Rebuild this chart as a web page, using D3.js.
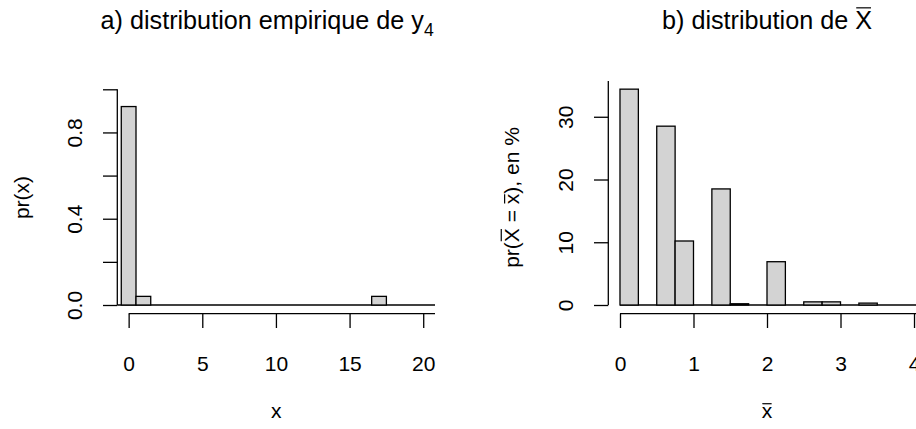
<!DOCTYPE html>
<html>
<head>
<meta charset="utf-8">
<script src="https://cdn.jsdelivr.net/npm/d3@7"></script>
<style>
  body { margin: 0; background: #fff; }
  svg { display: block; }
  text { font-family: "Liberation Sans", Arial, Helvetica, sans-serif; fill: #000; white-space: pre; }
</style>
</head>
<body>
<svg id="chart" width="916" height="429"></svg>
<script>
// a) empirical distribution of y4: observed values and their relative frequencies
const yValues = [0, 1, 17];
const yProb = [0.92, 0.04, 0.04];
const leftXTicks = [0, 5, 10, 15, 20];
const leftYTicks = [0, 0.2, 0.4, 0.6, 0.8, 1.0];
const leftYLabelled = [0, 0.4, 0.8];

// b) distribution of the sample mean: class start (width 0.25) and percentage
const meanBinStart = [0, 0.5, 0.75, 1.25, 1.5, 2, 2.5, 2.75, 3.25];
const meanPct = [34.4, 28.5, 10.2, 18.5, 0.2, 6.9, 0.5, 0.5, 0.3];
const meanBinWidth = 0.25;
const rightXTicks = [0, 1, 2, 3, 4];
const rightYTicks = [0, 10, 20, 30];

const svg = d3.select("#chart");
const AX = 21;        // axis text size
const MAIN = 25.2;    // title size
const TICK = 14.3;    // tick length
const SW = 1.3;       // line width
const FILL = "#d3d3d3";
const BASE_Y = 305;   // plot bottom (value 0)
const XAXIS_Y = 313.7;

// Text made of pieces; pieces flagged with `bar` get an overline, `sub` are subscripts.
function richText(g, parts, size) {
  const t = g.append("text")
    .attr("text-anchor", "middle")
    .attr("font-size", size)
    .attr("xml:space", "preserve");
  parts.forEach(p => {
    const ts = t.append("tspan").text(p.t);
    if (p.sub) ts.attr("font-size", size * 0.7).attr("dy", size * 0.27);
  });
  let idx = 0;
  parts.forEach(p => {
    if (p.bar) {
      const e = t.node().getExtentOfChar(idx);
      const yb = -size * p.bar;
      g.append("line")
        .attr("x1", e.x + e.width * 0.06).attr("x2", e.x + e.width * 0.94)
        .attr("y1", yb).attr("y2", yb)
        .attr("stroke", "#000").attr("stroke-width", 1.2);
    }
    idx += p.t.length;
  });
  return t;
}

function styleAxis(sel) {
  sel.select(".domain").remove();
  sel.selectAll(".tick line").attr("stroke", "#000").attr("stroke-width", SW);
  sel.selectAll(".tick text").attr("font-size", AX).attr("font-family", null).attr("fill", "#000");
  sel.attr("font-family", null).attr("font-size", null);
}

function line(x1, y1, x2, y2) {
  svg.append("line").attr("x1", x1).attr("y1", y1).attr("x2", x2).attr("y2", y2)
    .attr("stroke", "#000").attr("stroke-width", SW);
}

// ---------- panel a ----------
{
  const x = d3.scaleLinear().domain([-0.77, 20.8]).range([117.3, 435]);
  const y = d3.scaleLinear().domain([0, 1]).range([BASE_Y, 89.3]);
  const [xl, xr] = x.range();

  // zero line under the bars
  line(xl, y(0), xr, y(0));

  svg.append("g").selectAll("rect").data(yValues).join("rect")
    .attr("x", (d) => x(d - 0.5))
    .attr("width", (d) => x(d + 0.5) - x(d - 0.5))
    .attr("y", (d, i) => y(yProb[i]))
    .attr("height", (d, i) => y(0) - y(yProb[i]))
    .attr("fill", FILL).attr("stroke", "#000").attr("stroke-width", SW);

  // y axis
  line(xl, y(1), xl, y(0));
  const ya = svg.append("g").attr("transform", `translate(${xl},0)`)
    .call(d3.axisLeft(y).tickValues(leftYTicks).tickSize(TICK).tickSizeOuter(0)
      .tickFormat(d => leftYLabelled.some(v => Math.abs(v - d) < 1e-9) ? d3.format(".1f")(d) : ""));
  styleAxis(ya);
  ya.selectAll(".tick text").attr("x", null).attr("dy", null).attr("text-anchor", "middle")
    .attr("transform", "translate(-35.6,0) rotate(-90)");

  // x axis
  line(x(0), XAXIS_Y, xr, XAXIS_Y);
  const xa = svg.append("g").attr("transform", `translate(0,${XAXIS_Y})`)
    .call(d3.axisBottom(x).tickValues(leftXTicks).tickSize(TICK).tickSizeOuter(0));
  styleAxis(xa);
  xa.selectAll(".tick text").attr("dy", null).attr("y", 57);

  const cx = (xl + xr) / 2;
  richText(svg.append("g").attr("transform", `translate(${cx - 9},29)`),
    [{ t: "a) distribution empirique de y" }, { t: "4", sub: true }], MAIN);
  richText(svg.append("g").attr("transform", `translate(${cx},418)`), [{ t: "x" }], AX);
  richText(svg.append("g").attr("transform", `translate(28.6,197.5) rotate(-90)`), [{ t: "pr(x)" }], AX);
}

// ---------- panel b ----------
{
  const x = d3.scaleLinear().domain([-0.159, 4.159]).range([608.3, 925.7]);
  const y = d3.scaleLinear().domain([0, 35.7]).range([BASE_Y, 81]);
  const [xl, xr] = x.range();

  // zero line under the classes
  line(x(0), y(0), xr, y(0));

  svg.append("g").selectAll("rect").data(meanBinStart).join("rect")
    .attr("x", (d) => x(d))
    .attr("width", (d) => x(d + meanBinWidth) - x(d))
    .attr("y", (d, i) => y(meanPct[i]))
    .attr("height", (d, i) => y(0) - y(meanPct[i]))
    .attr("fill", FILL).attr("stroke", "#000").attr("stroke-width", SW);

  // y axis
  line(xl, y(35.7), xl, y(0));
  const ya = svg.append("g").attr("transform", `translate(${xl},0)`)
    .call(d3.axisLeft(y).tickValues(rightYTicks).tickSize(TICK).tickSizeOuter(0).tickFormat(d3.format("d")));
  styleAxis(ya);
  ya.selectAll(".tick text").attr("x", null).attr("dy", null).attr("text-anchor", "middle")
    .attr("transform", "translate(-35,0) rotate(-90)");

  // x axis
  line(x(0), XAXIS_Y, xr, XAXIS_Y);
  const xa = svg.append("g").attr("transform", `translate(0,${XAXIS_Y})`)
    .call(d3.axisBottom(x).tickValues(rightXTicks).tickSize(TICK).tickSizeOuter(0).tickFormat(d3.format("d")));
  styleAxis(xa);
  xa.selectAll(".tick text").attr("dy", null).attr("y", 57);

  const cx = (xl + xr) / 2;
  richText(svg.append("g").attr("transform", `translate(${cx},29)`),
    [{ t: "b) distribution de " }, { t: "X", bar: 0.84 }], MAIN);
  richText(svg.append("g").attr("transform", `translate(${cx},418)`), [{ t: "x", bar: 0.68 }], AX);
  richText(svg.append("g").attr("transform", `translate(518.9,197.5) rotate(-90)`),
    [{ t: "pr(" }, { t: "X", bar: 0.84 }, { t: " = " }, { t: "x", bar: 0.68 }, { t: "), en %" }], AX);
}
</script>
</body>
</html>
